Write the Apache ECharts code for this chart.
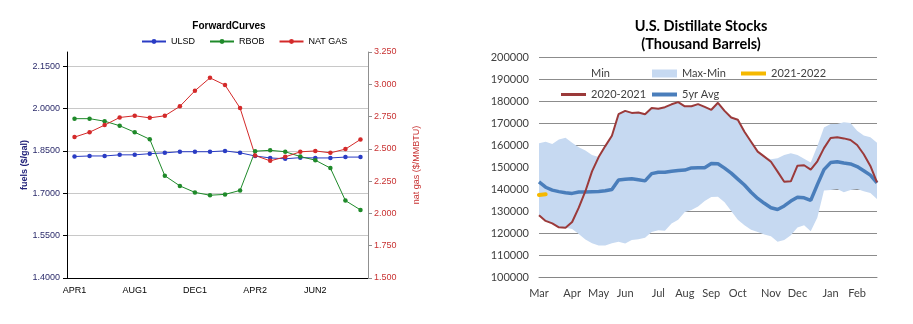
<!DOCTYPE html>
<html>
<head>
<meta charset="utf-8">
<script src="https://cdn.jsdelivr.net/npm/echarts@6/dist/echarts.min.js"></script>
<style>
  html, body { margin: 0; padding: 0; background: #fff; }
  #chart { width: 913px; height: 324px; }
</style>
</head>
<body>
<div id="chart"></div>
<script>
// ---- Forward curves (left panel) ----
const fcContracts = ['1','2','3','4','5','6','7','8','9','10','11','12','13','14','15','16','17','18','19','20'];
const fcTickLabels = ['APR1', 'AUG1', 'DEC1', 'APR2', 'JUN2'];
const ulsd = [1.830, 1.832, 1.832, 1.836, 1.836, 1.840, 1.843, 1.847, 1.847, 1.847,
              1.850, 1.843, 1.832, 1.825, 1.822, 1.826, 1.825, 1.825, 1.828, 1.828];
const rbob = [1.964, 1.964, 1.955, 1.939, 1.916, 1.891, 1.762, 1.726, 1.703, 1.693,
              1.696, 1.710, 1.849, 1.852, 1.847, 1.830, 1.817, 1.789, 1.674, 1.641];
const natGas = [2.591, 2.629, 2.684, 2.743, 2.756, 2.740, 2.756, 2.829, 2.950, 3.050,
                2.994, 2.816, 2.449, 2.407, 2.438, 2.477, 2.484, 2.469, 2.498, 2.573];

// ---- U.S. distillate stocks (right panel), weekly, thousand barrels ----
const weeks = Array.from({ length: 52 }, (_, i) => String(i + 1));
const monthNames = ['Mar', 'Apr', 'May', 'Jun', 'Jul', 'Aug', 'Sep', 'Oct', 'Nov', 'Dec', 'Jan', 'Feb'];
const monthStartWeek = [0, 5, 9, 13, 18, 22, 26, 30, 35, 39, 44, 48];

const stocks2020 = [128100, 125500, 124400, 122600, 122400, 125000, 131500, 139000, 148000, 154500,
                    159500, 164200, 174000, 175500, 174600, 174800, 174000, 176800, 176500, 177200,
                    178500, 179500, 177600, 177600, 178600, 177300, 176000, 179200, 175500, 172500,
                    171500, 166000, 161500, 157000, 154700, 152400, 147900, 143300, 143500, 150600,
                    150800, 148800, 152600, 158600, 163200, 163500, 163000, 162300, 160000, 155800,
                    150500, 143000];
const stocks2021 = [137300, 137600];
const fiveYrAvg = [143200, 140800, 139500, 138800, 138300, 138000, 138600, 138600, 138800, 138900,
                   139200, 139800, 144100, 144400, 144700, 144200, 143700, 147000, 147600, 147600,
                   148100, 148400, 148600, 149600, 149700, 149700, 151600, 151500, 149500, 147200,
                   144500, 141800, 138500, 135700, 133500, 131500, 130700, 132300, 134500, 136300,
                   136000, 134800, 142000, 148800, 152000, 152400, 151800, 151400, 150200, 148300,
                   146300, 142800];
const rangeMax = [160800, 161500, 160500, 162500, 163300, 161000, 159000, 157500, 155500, 154500,
                  159500, 164200, 174000, 175500, 174600, 174800, 174000, 176800, 176500, 177200,
                  178500, 179500, 177600, 177600, 178600, 177300, 176000, 179200, 175500, 172500,
                  171500, 166000, 161500, 157000, 154700, 153500, 154000, 155500, 156300, 155500,
                  153800, 152000, 159500, 168000, 169500, 169500, 170300, 170000, 166500, 164300,
                  163500, 161000];
const rangeMin = [128100, 125500, 124400, 122600, 122400, 121800, 119500, 117000, 115300, 114300,
                  114300, 115300, 116000, 115200, 116800, 117200, 117800, 120500, 121300, 121000,
                  124300, 126000, 129600, 130500, 132000, 134500, 136400, 136500, 134000, 130000,
                  126000, 123500, 121500, 120500, 119300, 118500, 116000, 116800, 119000, 122500,
                  123500, 120800, 127000, 139300, 139600, 140000, 138500, 139500, 140000, 139000,
                  138200, 135500];
const rangeSpan = rangeMax.map((v, i) => v - rangeMin[i]);

const leftFont = 'Liberation Sans';
const rightFont = 'Lato';
const rightText = '#404040';

function stockLegend(name, left, top, icon, h) {
  return {
    data: [{ name: name, icon: icon }],
    left: left, top: top,
    itemWidth: 25, itemHeight: h,
    itemStyle: { borderWidth: 0 },
    selectedMode: false,
    textStyle: { fontFamily: rightFont, fontSize: 11, color: rightText }
  };
}

const chart = echarts.init(document.getElementById('chart'));
chart.setOption({
  animation: false,
  backgroundColor: '#fff',
  title: [
    { text: 'ForwardCurves', left: 224, top: 16, textAlign: 'center',
      textStyle: { fontFamily: leftFont, fontSize: 10, fontWeight: 'bold', color: '#000' } },
    { text: 'U.S. Distillate Stocks\n(Thousand Barrels)', left: 696, top: 12, textAlign: 'center',
      textStyle: { fontFamily: rightFont, fontSize: 14.5, fontWeight: 'bold', color: '#000', lineHeight: 18 } }
  ],
  legend: [
    { data: ['ULSD', 'RBOB', 'NAT GAS'], left: 136, top: 32, itemWidth: 24, itemHeight: 6, itemGap: 14,
      selectedMode: false, textStyle: { fontFamily: leftFont, fontSize: 9, color: '#000' } },
    stockLegend('Min', 556, 63, 'rect', 8),
    stockLegend('Max-Min', 647, 63, 'rect', 8),
    stockLegend('2021-2022', 736, 63, 'rect', 4),
    stockLegend('2020-2021', 556, 84, 'rect', 3),
    stockLegend('5yr Avg', 647, 84, 'rect', 4)
  ],
  grid: [
    { left: 67, right: 545, top: 52, bottom: 46 },
    { left: 539, right: 36, top: 57, bottom: 47 }
  ],
  xAxis: [
    { gridIndex: 0, type: 'category', data: fcContracts, boundaryGap: true,
      axisLine: { lineStyle: { color: '#000' } },
      axisTick: { interval: 3, length: 4, lineStyle: { color: '#000' } },
      axisLabel: { interval: 3, margin: 8, fontFamily: leftFont, fontSize: 9, color: '#000',
        formatter: (v) => fcTickLabels[Math.round((Number(v) - 1) / 4)] } },
    { gridIndex: 1, type: 'category', data: weeks, boundaryGap: false,
      axisLine: { lineStyle: { color: '#868686' } },
      axisTick: { show: false },
      axisLabel: { margin: 11, fontFamily: rightFont, fontSize: 11, color: rightText,
        interval: (idx) => monthStartWeek.indexOf(idx) >= 0,
        formatter: (v) => monthNames[monthStartWeek.indexOf(Number(v) - 1)] } }
  ],
  yAxis: [
    { gridIndex: 0, type: 'value', position: 'left', min: 1.4, max: 2.2, interval: 0.15,
      axisLine: { show: true, lineStyle: { color: '#000' } },
      axisTick: { show: true, length: 4, lineStyle: { color: '#000' } },
      axisLabel: { showMaxLabel: false, margin: 7, fontFamily: leftFont, fontSize: 9, color: '#2b2b6b',
        formatter: (v) => v.toFixed(4) },
      splitLine: { showMaxLine: false, lineStyle: { color: '#c8c8c8' } },
      name: 'fuels ($/gal)', nameLocation: 'middle', nameGap: 38, nameRotate: 90,
      nameTextStyle: { fontFamily: leftFont, fontSize: 9, fontWeight: 'bold', color: '#22227a' } },
    { gridIndex: 0, type: 'value', position: 'right', min: 1.5, max: 3.25, interval: 0.25,
      axisLine: { show: true, lineStyle: { color: '#909090' } },
      axisTick: { show: true, length: 4, lineStyle: { color: '#909090' } },
      axisLabel: { margin: 6, fontFamily: leftFont, fontSize: 9, color: '#c83232',
        formatter: (v) => v.toFixed(3) },
      splitLine: { show: false },
      name: 'nat gas ($/MMBTU)', nameLocation: 'middle', nameGap: 44, nameRotate: 90,
      nameTextStyle: { fontFamily: leftFont, fontSize: 9, color: '#c83232' } },
    { gridIndex: 1, type: 'value', min: 100000, max: 200000, interval: 10000,
      axisLine: { show: false }, axisTick: { show: false },
      axisLabel: { margin: 10, fontFamily: rightFont, fontSize: 11, color: rightText,
        formatter: (v) => String(v) },
      splitLine: { lineStyle: { color: '#8c8c8c' } } }
  ],
  series: [
    { name: 'ULSD', type: 'line', xAxisIndex: 0, yAxisIndex: 0, data: ulsd,
      symbol: 'circle', symbolSize: 4.5, color: '#2a3cc4', lineStyle: { width: 1 } },
    { name: 'RBOB', type: 'line', xAxisIndex: 0, yAxisIndex: 0, data: rbob,
      symbol: 'circle', symbolSize: 4.5, color: '#1f8a2a', lineStyle: { width: 1 } },
    { name: 'NAT GAS', type: 'line', xAxisIndex: 0, yAxisIndex: 1, data: natGas,
      symbol: 'circle', symbolSize: 4.5, color: '#d42a2a', lineStyle: { width: 1 } },

    { name: 'Min', type: 'line', xAxisIndex: 1, yAxisIndex: 2, data: rangeMin, stack: 'range',
      symbol: 'none', color: 'rgba(255,255,255,0)', lineStyle: { width: 0 }, areaStyle: { opacity: 0 } },
    { name: 'Max-Min', type: 'line', xAxisIndex: 1, yAxisIndex: 2, data: rangeSpan, stack: 'range',
      symbol: 'none', color: '#c6d9f1', lineStyle: { width: 0 }, areaStyle: { color: '#c6d9f1', opacity: 1 } },
    { name: '5yr Avg', type: 'line', xAxisIndex: 1, yAxisIndex: 2, data: fiveYrAvg,
      symbol: 'none', color: '#4a7ebb', lineStyle: { width: 3.5 } },
    { name: '2020-2021', type: 'line', xAxisIndex: 1, yAxisIndex: 2, data: stocks2020,
      symbol: 'none', color: '#9b3a3a', lineStyle: { width: 2 } },
    { name: '2021-2022', type: 'line', xAxisIndex: 1, yAxisIndex: 2, data: stocks2021,
      symbol: 'none', color: '#f5b800', lineStyle: { width: 4, cap: 'round' } }
  ]
});
</script>
</body>
</html>
